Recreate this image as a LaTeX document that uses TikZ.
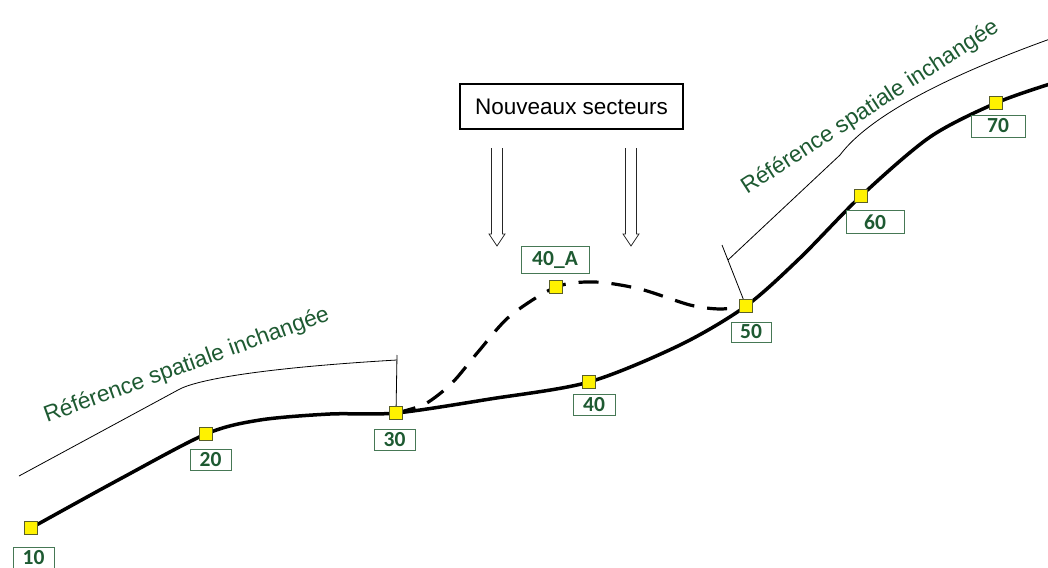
\documentclass[tikz,border=0pt]{standalone}
\usepackage{fontspec}
\setmainfont{Liberation Sans}
\newfontfamily\labfont{Carlito Bold}
\definecolor{txtgreen}{RGB}{30,90,50}
\definecolor{labborder}{RGB}{70,120,85}
\definecolor{sqborder}{RGB}{90,95,40}
\begin{document}
\begin{tikzpicture}[x=1pt,y=-1pt,
  sq/.style={draw=sqborder, fill=yellow, line width=0.8pt, minimum size=13pt, inner sep=0pt},
  lab/.style={draw=labborder, fill=white, line width=0.8pt, text=txtgreen,
    font=\labfont\fontsize{21.5}{24}\selectfont, inner sep=0pt, minimum height=21pt},
  reftext/.style={text=txtgreen, font=\fontsize{22.8}{27}\selectfont, inner sep=0pt, anchor=base west},
  refline/.style={line width=0.8pt, draw=black},
  mainline/.style={line width=3.5pt, line cap=round, line join=round},
  dashline/.style={line width=3.2pt, dash pattern=on 20pt off 13pt},
  hollow/.style={line width=0.8pt, draw=black!85}
]
\useasboundingbox (0,0) rectangle (1048,567);
\clip (0,0) rectangle (1048,567);

% point positions
\coordinate (p10) at (31,528);
\coordinate (p20) at (206,434);
\coordinate (p30) at (396,413);
\coordinate (p40) at (589,382);
\coordinate (p40A) at (556,287);
\coordinate (p50) at (746,306);
\coordinate (p60) at (861,196);
\coordinate (p70) at (996,103);
\coordinate (pend) at (1050,84);

% reference lines
\coordinate (r1a) at (19,476);
\coordinate (r1b) at (178,390);
\coordinate (r1c) at (397,360);
\coordinate (r1t) at (397,355);
\draw[refline] (r1a) -- (r1b) .. controls (195,380) and (260,368) .. (r1c);
\draw[refline] (r1t) -- (p30);

\coordinate (r2t) at (722,245);
\coordinate (r2a) at (728,260);
\coordinate (r2b) at (840,155);
\coordinate (r2c) at (1050,39);
\draw[refline] (r2t) -- (p50);
\draw[refline] (r2a) -- (r2b) .. controls (870,115) and (950,75) .. (r2c);

% main curve
\draw[mainline] plot[smooth, tension=0.5] coordinates {(p10) (120,479) (p20) (260,420) (330,414) (p30) (490,399) (p40) (680,345) (p50) (800,258) (p60) (930,137) (p70) (pend)};

% dashed new sector
\draw[dashline] plot[smooth, tension=0.5] coordinates {(p30) (425,404) (452,383) (478,352) (510,316) (p40A) (595,282) (640,289) (690,305) (720,309) (p50)};

% squares
\foreach \n in {10,20,30,40,40A,50,60,70}{
  \node[sq] (m\n) at (p\n) {};
}

% labels
\node[lab, minimum width=41pt] (l10) at (33.5,558) {10};
\node[lab, minimum width=41pt] (l20) at (210.5,459.5) {20};
\node[lab, minimum width=41pt] (l30) at (394.5,439.5) {30};
\node[lab, minimum width=42pt] (l40) at (594,404.5) {40};
\node[lab, minimum width=68pt, minimum height=27pt] (l40A) at (555,260) {40\_A};
\node[lab, minimum width=40pt, minimum height=20pt] (l50) at (751,332) {50};
\node[lab, minimum width=58pt, minimum height=23pt] (l60) at (875,222) {60};
\node[lab, minimum width=54pt, minimum height=22pt] (l70) at (998,126) {70};

% texts
\node[reftext, rotate=20] (t1) at (47,423) {Référence spatiale inchangée};
\node[reftext, rotate=33] (t2) at (747,195) {Référence spatiale inchangée};

% box
\node[draw, line width=1.1pt, minimum width=223pt, minimum height=45pt, inner sep=0pt,
  font=\fontsize{22.5}{27}\selectfont] (box) at (571.5,106.5) {Nouveaux secteurs};

% hollow arrows
\foreach \c/\nm in {497/a1, 631/a2}{
  \coordinate (\nm) at (\c,148);
  \draw[hollow] (\nm) ++(-5.5,0) -- ++(0,86) -- ++(-2.5,0) -- ++(8,12) -- ++(8,-12) -- ++(-2.5,0) -- ++(0,-86);
}
\end{tikzpicture}
\end{document}
